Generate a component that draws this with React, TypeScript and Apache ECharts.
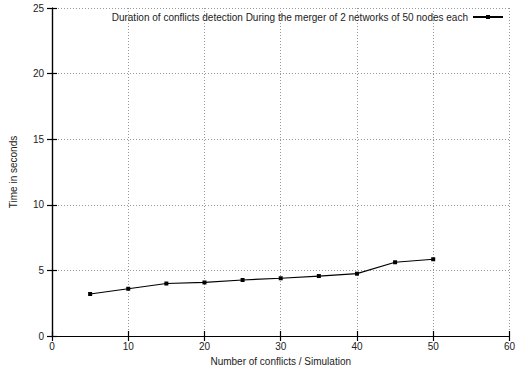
import React, { useEffect, useRef } from "react";
import * as echarts from "echarts";

const conflicts = [5, 10, 15, 20, 25, 30, 35, 40, 45, 50];
const seconds = [3.2, 3.6, 4.0, 4.08, 4.27, 4.4, 4.57, 4.75, 5.62, 5.85];
const seriesName =
  "Duration of conflicts detection During the merger of 2 networks of 50 nodes each";
const xTitle = "Number of conflicts / Simulation";
const yTitle = "Time in seconds";

const FONT = "Liberation Sans, Arial, Helvetica, sans-serif";

export default function App() {
  const ref = useRef<HTMLDivElement>(null);
  useEffect(() => {
    if (!ref.current) return;
    const chart = echarts.init(ref.current, undefined, { renderer: "svg" });
    const axisLine = { show: true, lineStyle: { color: "#000", width: 1.2 } };
    const splitLine = {
      show: true,
      lineStyle: { color: "#999", type: [1, 2] as any, width: 1 },
    };
    const tick = { show: true, inside: true, length: 5, lineStyle: { color: "#000", width: 1.2 } };
    const label = { color: "#222", fontSize: 10, fontFamily: FONT };
    chart.setOption({
      animation: false,
      textStyle: { fontFamily: FONT },
      grid: { left: 49, right: 3, top: 8, bottom: 35, containLabel: false },
      legend: {
        show: true,
        top: 7,
        right: 9,
        itemWidth: 30,
        itemHeight: 5,
        itemGap: 6,
        align: "right",
        textStyle: { color: "#222", fontSize: 10, fontFamily: FONT },
        data: [seriesName],
      },
      xAxis: [
        {
          type: "value",
          min: 0,
          max: 60,
          interval: 10,
          position: "bottom",
          name: xTitle,
          nameLocation: "middle",
          nameGap: 20,
          nameTextStyle: { color: "#222", fontSize: 10, fontFamily: FONT },
          axisLine,
          axisTick: tick,
          axisLabel: { ...label, margin: 5 },
          splitLine,
        },
        {
          type: "value",
          min: 0,
          max: 60,
          interval: 10,
          position: "top",
          axisLine,
          axisTick: tick,
          axisLabel: { show: false },
          splitLine: { show: false },
        },
      ],
      yAxis: [
        {
          type: "value",
          min: 0,
          max: 25,
          interval: 5,
          position: "left",
          name: yTitle,
          nameLocation: "middle",
          nameGap: 34,
          nameRotate: 90,
          nameTextStyle: { color: "#222", fontSize: 10, fontFamily: FONT },
          axisLine,
          axisTick: tick,
          axisLabel: { ...label, margin: 8 },
          splitLine,
        },
        {
          type: "value",
          min: 0,
          max: 25,
          interval: 5,
          position: "right",
          axisLine,
          axisTick: tick,
          axisLabel: { show: false },
          splitLine: { show: false },
        },
      ],
      series: [
        {
          name: seriesName,
          type: "line",
          xAxisIndex: 0,
          yAxisIndex: 0,
          data: conflicts.map((c, i) => [c, seconds[i]]),
          symbol: "rect",
          symbolSize: 4,
          showAllSymbol: true,
          lineStyle: { color: "#000", width: 1.2 },
          itemStyle: { color: "#000" },
        },
      ],
    });
    return () => chart.dispose();
  }, []);
  return (
    <div
      ref={ref}
      style={{ width: 518, height: 371, position: "absolute", left: 0, top: 0, background: "#fff" }}
    />
  );
}
